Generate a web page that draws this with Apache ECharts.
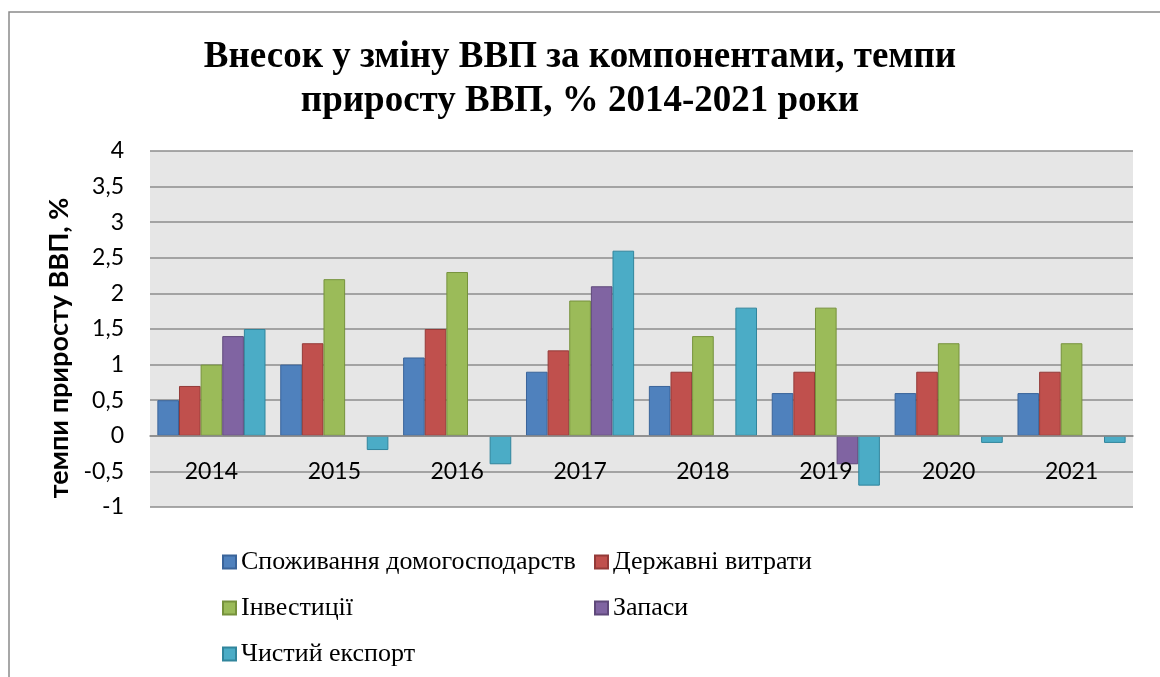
<!DOCTYPE html>
<html>
<head>
<meta charset="utf-8">
<script src="https://cdn.jsdelivr.net/npm/echarts@6/dist/echarts.min.js"></script>
<style>
  html, body { margin: 0; padding: 0; background: #fff; }
  #chart { width: 1160px; height: 677px; }
</style>
</head>
<body>
<div id="chart"></div>
<script>
const years = ["2014", "2015", "2016", "2017", "2018", "2019", "2020", "2021"];
const seriesNames = ["Споживання домогосподарств", "Державні витрати", "Інвестиції", "Запаси", "Чистий експорт"];
const household = [0.5, 1.0, 1.1, 0.9, 0.7, 0.6, 0.6, 0.6];
const government = [0.7, 1.3, 1.5, 1.2, 0.9, 0.9, 0.9, 0.9];
const investment = [1.0, 2.2, 2.3, 1.9, 1.4, 1.8, 1.3, 1.3];
const inventories = [1.4, 0, 0, 2.1, 0, -0.4, 0, 0];
const netExport = [1.5, -0.2, -0.4, 2.6, 1.8, -0.7, -0.1, -0.1];
const yTicks = { min: -1, max: 4, step: 0.5 };

const fills = ["#4F81BD", "#C0504D", "#9BBB59", "#8064A2", "#4BACC6"];
const edges = ["#3A649A", "#943A38", "#76923C", "#5F497A", "#31859C"];
const values = [household, government, investment, inventories, netExport];

const chart = echarts.init(document.getElementById("chart"), null, { renderer: "canvas" });

const legendText = { fontFamily: "Liberation Serif", fontSize: 26, color: "#000", lineHeight: 26 };

// plot area in px; the category axis sits on the zero line
const plotTop = 151, plotBottom = 507;
const zeroShift = (plotBottom - plotTop) * (0 - yTicks.min) / (yTicks.max - yTicks.min);

const option = {
  backgroundColor: "#fff",
  animation: false,
  title: {
    text: "Внесок у зміну ВВП за компонентами, темпи\nприросту ВВП, % 2014-2021 роки",
    left: "center",
    top: 35,
    padding: 0,
    textStyle: {
      fontFamily: "Liberation Serif",
      fontWeight: "bold",
      fontSize: 37,
      lineHeight: 44,
      color: "#000"
    }
  },
  graphic: [{
    type: "rect",
    shape: { x: 9, y: 12, width: 1200, height: 720 },
    style: { fill: null, stroke: "#8a8a8a", lineWidth: 1.5 },
    silent: true
  }],
  legend: [
    {
      data: [seriesNames[0], seriesNames[2], seriesNames[4]],
      orient: "vertical",
      left: 222,
      top: 549,
      padding: 0,
      itemWidth: 13,
      itemHeight: 13,
      itemGap: 20,
      icon: "rect",
      selectedMode: false,
      textStyle: legendText
    },
    {
      data: [seriesNames[1], seriesNames[3]],
      orient: "vertical",
      left: 594,
      top: 549,
      padding: 0,
      itemWidth: 13,
      itemHeight: 13,
      itemGap: 20,
      icon: "rect",
      selectedMode: false,
      textStyle: legendText
    }
  ],
  grid: {
    left: 150,
    right: 27,
    top: plotTop,
    bottom: 677 - plotBottom,
    show: true,
    backgroundColor: "#E6E6E6",
    borderWidth: 0
  },
  xAxis: {
    type: "category",
    data: years,
    offset: -zeroShift,
    z: 10,
    axisLine: { show: true, onZero: false, lineStyle: { color: "#8c8c8c", width: 1.5 } },
    axisTick: { show: false },
    axisLabel: { fontFamily: "Lato", fontSize: 23, color: "#000", margin: 24 },
    splitLine: { show: false }
  },
  yAxis: {
    type: "value",
    min: yTicks.min,
    max: yTicks.max,
    interval: yTicks.step,
    name: "темпи приросту ВВП, %",
    nameLocation: "middle",
    nameGap: 72,
    nameTextStyle: {
      fontFamily: "Lato",
      fontWeight: "bold",
      fontSize: 27,
      color: "#000",
      padding: [0, 38, 0, 0]
    },
    axisLine: { show: false },
    axisTick: { show: false },
    axisLabel: {
      fontFamily: "Lato",
      fontSize: 23,
      color: "#000",
      margin: 26,
      formatter: (v) => String(v).replace(".", ",")
    },
    splitLine: { lineStyle: { color: "#8c8c8c", width: 1.5 } }
  },
  series: seriesNames.map((name, i) => ({
    name: name,
    type: "bar",
    data: values[i].map((v) => (v === 0 ? { value: 0, itemStyle: { borderWidth: 0 } } : v)),
    barGap: "0%",
    barCategoryGap: "12%",
    itemStyle: { color: fills[i], borderColor: edges[i], borderWidth: 1 }
  }))
};

chart.setOption(option);
</script>
</body>
</html>
